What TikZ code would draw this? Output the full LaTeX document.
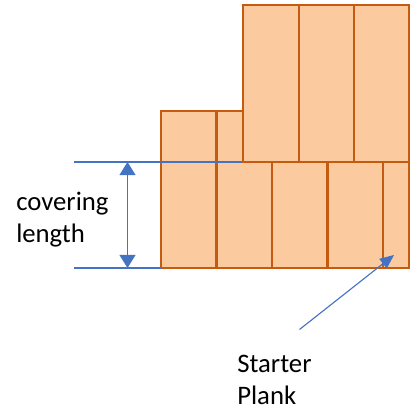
\documentclass[tikz,border=0pt]{standalone}
\usepackage{fontspec}
\setmainfont{Carlito}
\usepackage{xcolor}
\usetikzlibrary{arrows.meta}
\definecolor{plankfill}{HTML}{FBCA9E}
\definecolor{plankedge}{HTML}{C55A11}
\definecolor{dimblue}{HTML}{4472C4}
\begin{document}
\begin{tikzpicture}[x=0.025cm,y=-0.025cm]
\useasboundingbox (0,0) rectangle (416,412);
\draw[plankedge,fill=plankfill,line width=2pt] (161,111) rectangle (216.5,268);
\draw[plankedge,fill=plankfill,line width=2pt] (216.5,111) rectangle (272,268);
\draw[plankedge,fill=plankfill,line width=2pt] (272,111) rectangle (327.5,268);
\draw[plankedge,fill=plankfill,line width=2pt] (327.5,111) rectangle (383,268);
\draw[plankedge,fill=plankfill,line width=2pt] (383,111) rectangle (409,268);
\coordinate (dimtopleft) at (74,162);
\coordinate (dimtopright) at (243,162);
\coordinate (dimbotleft) at (74,268);
\coordinate (dimbotright) at (161,268);
\coordinate (dimtop) at (127.5,162);
\coordinate (dimbot) at (127.5,268);
\draw[dimblue,line width=0.8pt] (dimtopleft) -- (dimtopright);
\draw[dimblue,line width=0.8pt] (dimbotleft) -- (dimbotright);
\draw[plankedge,fill=plankfill,line width=2pt] (243,5) rectangle (299,162);
\draw[plankedge,fill=plankfill,line width=2pt] (299,5) rectangle (354,162);
\draw[plankedge,fill=plankfill,line width=2pt] (354,5) rectangle (409,162);
\draw[dimblue,line width=1.1pt,{Triangle[length=0.33cm,width=0.4cm]}-{Triangle[length=0.33cm,width=0.4cm]}] (dimtop) -- (dimbot);
\node[anchor=base west,inner sep=0,align=left,font=\fontsize{19}{23.2}\selectfont] (covlabel) at (16,243) {covering\\length};
\node[anchor=base west,inner sep=0,align=left,font=\fontsize{19}{23.2}\selectfont] (starterlabel) at (237,405) {Starter\\Plank};
\coordinate (startertail) at (299.5,329.5);
\coordinate (startertip) at (394,255);
\draw[dimblue,line width=0.8pt,-{Triangle[length=0.35cm,width=0.3cm]}] (startertail) -- (startertip);
\end{tikzpicture}
\end{document}
